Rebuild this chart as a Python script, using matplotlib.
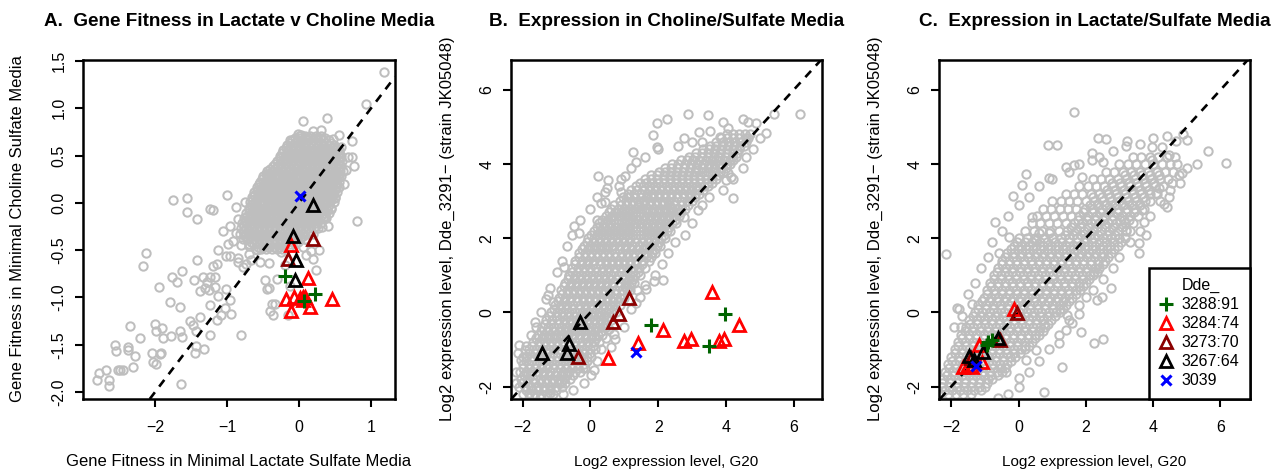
import numpy as np
import matplotlib
matplotlib.use("Agg")
import matplotlib.pyplot as plt
from matplotlib.lines import Line2D

plt.rcParams['font.family'] = ['Liberation Sans', 'DejaVu Sans']

# ---------------- text ----------------
titles = ["A.  Gene Fitness in Lactate v Choline Media",
          "B.  Expression in Choline/Sulfate Media",
          "C.  Expression in Lactate/Sulfate Media"]
xlabels = ["Gene Fitness in Minimal Lactate Sulfate Media",
           "Log2 expression level, G20",
           "Log2 expression level, G20"]
ylabels = ["Gene Fitness in Minimal Choline Sulfate Media",
           "Log2 expression level, Dde_3291\u2212 (strain JK05048)",
           "Log2 expression level, Dde_3291\u2212 (strain JK05048)"]
legend_title = "Dde_"
group_labels = ["3288:91", "3284:74", "3273:70", "3267:64", "3039"]

a_xticks = [-2, -1, 0, 1]
a_yticks = [-2.0, -1.5, -1.0, -0.5, 0.0, 0.5, 1.0, 1.5]
bc_ticks = [-2, 0, 2, 4, 6]

# ---------------- highlighted genes ----------------
a_green = [(-0.19, -0.77), (0.22, -0.96), (0.07, -1.04)]
a_red = [(-0.11, -0.45), (0.12, -0.79), (-0.18, -1.02), (-0.07, -1.00), (0.02, -1.01),
         (0.05, -1.00), (0.09, -0.99), (0.06, -1.03), (0.15, -1.10), (-0.11, -1.14), (0.46, -1.02)]
a_darkred = [(0.19, -0.38), (-0.15, -0.59)]
a_black = [(0.19, -0.02), (-0.08, -0.35), (-0.04, -0.60), (-0.05, -0.81)]
a_blue = [(0.01, 0.07)]

b_green = [(1.79, -0.34), (3.97, -0.05), (3.49, -0.90)]
b_red = [(3.60, 0.54), (4.38, -0.34), (2.15, -0.47), (2.76, -0.77), (2.98, -0.73),
         (3.79, -0.77), (3.94, -0.73), (1.40, -0.83), (0.51, -1.22)]
b_darkred = [(1.15, 0.38), (0.83, -0.05), (0.66, -0.27), (-0.38, -1.21)]
b_black = [(-0.31, -0.25), (-0.62, -0.85), (-0.69, -1.09), (-1.44, -1.10)]
b_blue = [(1.35, -1.06)]

c_green = [(-0.90, -0.79), (-0.80, -0.74), (-0.95, -0.88)]
c_red = [(-0.13, 0.10), (-1.17, -0.88), (-1.64, -1.46), (-1.39, -1.48), (-1.09, -1.33), (-1.50, -1.42)]
c_darkred = [(-0.04, -0.02), (-0.55, -0.74), (-1.40, -1.22)]
c_black = [(-0.60, -0.70), (-1.06, -1.06), (-1.46, -1.18), (-1.32, -1.28)]
c_blue = [(-1.27, -1.44)]

# ---------------- background genes (grey) ----------------
# Panel A dense core, row by row (y value, x values)
a_core_y = [0.71, 0.685, 0.66, 0.635, 0.61, 0.58, 0.555, 0.525, 0.50, 0.47, 0.445, 0.415, 0.39, 0.36,
            0.335, 0.305, 0.28, 0.25, 0.225, 0.195, 0.17, 0.14, 0.115, 0.085, 0.06, 0.03, 0.005,
            -0.025, -0.05, -0.08, -0.105, -0.135, -0.16, -0.19, -0.215, -0.245, -0.27, -0.30,
            -0.325, -0.355, -0.38, -0.41, -0.435, -0.465, -0.49]
a_core_x = [
    [0.00, 0.08, 0.15, 0.23, 0.30],
    [-0.06, 0.01, 0.08, 0.15, 0.22, 0.29, 0.36],
    [-0.10, -0.03, 0.04, 0.11, 0.19, 0.26, 0.33, 0.41],
    [-0.13, -0.06, 0.01, 0.08, 0.16, 0.23, 0.30, 0.37, 0.45],
    [-0.16, -0.09, -0.02, 0.05, 0.13, 0.20, 0.27, 0.34, 0.42, 0.49],
    [-0.18, -0.11, -0.04, 0.03, 0.10, 0.17, 0.25, 0.32, 0.39, 0.46, 0.52],
    [-0.22, -0.15, -0.08, 0.00, 0.07, 0.14, 0.21, 0.29, 0.36, 0.43, 0.50, 0.56],
    [-0.23, -0.16, -0.09, -0.02, 0.05, 0.13, 0.20, 0.27, 0.34, 0.41, 0.48, 0.55],
    [-0.27, -0.20, -0.12, -0.05, 0.02, 0.09, 0.17, 0.24, 0.31, 0.38, 0.45, 0.52, 0.58],
    [-0.27, -0.20, -0.13, -0.06, 0.01, 0.09, 0.16, 0.23, 0.30, 0.37, 0.45, 0.52, 0.57],
    [-0.31, -0.24, -0.17, -0.10, -0.02, 0.05, 0.12, 0.19, 0.27, 0.34, 0.41, 0.48, 0.55, 0.60],
    [-0.33, -0.26, -0.18, -0.11, -0.04, 0.03, 0.11, 0.18, 0.25, 0.32, 0.40, 0.47, 0.54],
    [-0.36, -0.29, -0.22, -0.14, -0.07, 0.00, 0.08, 0.15, 0.22, 0.29, 0.36, 0.44, 0.51, 0.58],
    [-0.40, -0.33, -0.26, -0.18, -0.11, -0.04, 0.03, 0.11, 0.18, 0.25, 0.32, 0.40, 0.47, 0.54],
    [-0.44, -0.37, -0.30, -0.23, -0.15, -0.08, -0.01, 0.06, 0.14, 0.21, 0.28, 0.35, 0.42, 0.50, 0.57, 0.61],
    [-0.46, -0.39, -0.32, -0.24, -0.17, -0.10, -0.03, 0.05, 0.12, 0.19, 0.26, 0.34, 0.41, 0.48, 0.55],
    [-0.50, -0.43, -0.35, -0.28, -0.21, -0.14, -0.06, 0.01, 0.08, 0.15, 0.23, 0.30, 0.37, 0.44, 0.52, 0.59],
    [-0.51, -0.44, -0.37, -0.29, -0.22, -0.15, -0.08, 0.00, 0.07, 0.14, 0.21, 0.29, 0.36, 0.43, 0.51],
    [-0.54, -0.47, -0.40, -0.32, -0.25, -0.18, -0.11, -0.03, 0.04, 0.11, 0.18, 0.26, 0.33, 0.40, 0.47, 0.55],
    [-0.55, -0.48, -0.41, -0.33, -0.26, -0.19, -0.12, -0.04, 0.03, 0.10, 0.17, 0.25, 0.32, 0.39, 0.47, 0.53],
    [-0.58, -0.51, -0.43, -0.36, -0.29, -0.22, -0.14, -0.07, 0.00, 0.07, 0.15, 0.22, 0.29, 0.36, 0.44, 0.51, 0.56],
    [-0.59, -0.52, -0.45, -0.37, -0.30, -0.23, -0.16, -0.08, -0.01, 0.06, 0.13, 0.21, 0.28, 0.35, 0.43, 0.50],
    [-0.62, -0.55, -0.47, -0.40, -0.33, -0.26, -0.18, -0.11, -0.04, 0.03, 0.11, 0.18, 0.25, 0.32, 0.40, 0.47, 0.53],
    [-0.62, -0.55, -0.48, -0.40, -0.33, -0.26, -0.19, -0.11, -0.04, 0.03, 0.10, 0.18, 0.25, 0.32, 0.40, 0.47],
    [-0.65, -0.58, -0.51, -0.43, -0.36, -0.29, -0.22, -0.14, -0.07, 0.00, 0.07, 0.15, 0.22, 0.29, 0.36, 0.44, 0.50],
    [-0.65, -0.58, -0.51, -0.43, -0.36, -0.29, -0.22, -0.14, -0.07, 0.00, 0.07, 0.15, 0.22, 0.29, 0.37, 0.44],
    [-0.68, -0.61, -0.54, -0.47, -0.39, -0.32, -0.25, -0.18, -0.10, -0.03, 0.04, 0.11, 0.19, 0.26, 0.33, 0.40, 0.48],
    [-0.67, -0.60, -0.53, -0.45, -0.38, -0.31, -0.24, -0.16, -0.09, -0.02, 0.05, 0.13, 0.20, 0.27, 0.35, 0.42],
    [-0.70, -0.63, -0.56, -0.49, -0.41, -0.34, -0.27, -0.20, -0.12, -0.05, 0.02, 0.09, 0.17, 0.24, 0.31, 0.38, 0.45],
    [-0.70, -0.63, -0.56, -0.48, -0.41, -0.34, -0.27, -0.19, -0.12, -0.05, 0.02, 0.10, 0.17, 0.24, 0.32, 0.39],
    [-0.73, -0.66, -0.59, -0.51, -0.44, -0.37, -0.30, -0.22, -0.15, -0.08, -0.01, 0.07, 0.14, 0.21, 0.28, 0.36, 0.42],
    [-0.72, -0.65, -0.58, -0.50, -0.43, -0.36, -0.29, -0.21, -0.14, -0.07, 0.00, 0.08, 0.15, 0.22, 0.30, 0.36],
    [-0.76, -0.69, -0.61, -0.54, -0.47, -0.40, -0.32, -0.25, -0.18, -0.11, -0.03, 0.04, 0.11, 0.18, 0.26, 0.33, 0.38],
    [-0.75, -0.68, -0.61, -0.53, -0.46, -0.39, -0.32, -0.24, -0.17, -0.10, -0.03, 0.05, 0.12, 0.19, 0.27],
    [-0.79, -0.72, -0.64, -0.57, -0.50, -0.43, -0.35, -0.28, -0.21, -0.14, -0.06, 0.01, 0.08, 0.15, 0.23, 0.30],
    [-0.77, -0.70, -0.63, -0.55, -0.48, -0.41, -0.34, -0.26, -0.19, -0.12, -0.05, 0.03, 0.10, 0.17, 0.24],
    [-0.81, -0.74, -0.66, -0.59, -0.52, -0.45, -0.37, -0.30, -0.23, -0.16, -0.08, -0.01, 0.06, 0.13, 0.21, 0.27],
    [-0.78, -0.71, -0.64, -0.56, -0.49, -0.42, -0.35, -0.27, -0.20, -0.13, -0.06, 0.02, 0.09, 0.16],
    [-0.82, -0.75, -0.68, -0.61, -0.53, -0.46, -0.39, -0.32, -0.24, -0.17, -0.10, -0.03, 0.05, 0.12, 0.20],
    [-0.75, -0.68, -0.61, -0.53, -0.46, -0.39, -0.32, -0.24, -0.17, -0.10, -0.03, 0.05],
    [-0.78, -0.71, -0.64, -0.56, -0.49, -0.42, -0.35, -0.27, -0.20, -0.13, -0.06, 0.02, 0.09],
    [-0.67, -0.60, -0.52, -0.45, -0.38, -0.31, -0.23, -0.16, -0.09, -0.02],
    [-0.70, -0.63, -0.55, -0.48, -0.41, -0.34, -0.26, -0.19, -0.12, -0.05],
    [-0.57, -0.50, -0.43, -0.35, -0.28, -0.21, -0.14],
    [-0.60, -0.53, -0.46, -0.38, -0.31, -0.24],
]
a_scatter = [
    (1.18, 1.38), (0.93, 1.04), (0.39, 0.90), (0.05, 0.86), (0.19, 0.76), (-0.02, 0.73), (0.03, 0.72),
    (0.56, 0.72), (0.74, 0.65), (0.76, 0.39), (0.73, 0.49), (0.68, 0.48), (0.81, -0.19), (-0.30, 0.38),
    (-0.45, 0.31), (-1.00, 0.08), (-1.75, 0.03), (-1.56, 0.05), (-1.55, -0.10), (-1.42, -0.17),
    (-1.23, -0.07), (-1.19, -0.08), (-0.88, -0.04), (-0.75, 0.01), (-0.96, -0.24), (-1.06, -0.30),
    (-0.85, -0.17), (-2.13, -0.53), (-2.16, -0.67), (-1.13, -0.50), (-0.98, -0.44), (-1.02, -0.56),
    (-0.96, -0.56), (-0.85, -0.58), (-1.42, -0.60), (-1.14, -0.65), (-1.19, -0.67), (-1.63, -0.72),
    (-1.76, -0.78), (-1.70, -0.84), (-1.94, -0.89), (-1.46, -0.82), (-1.33, -0.78), (-1.28, -0.84),
    (-1.24, -0.78), (-1.17, -0.78), (-1.37, -0.93), (-1.31, -0.90), (-1.25, -0.92), (-1.17, -0.89),
    (-1.01, -0.91), (-1.13, -0.98), (-1.79, -1.05), (-1.65, -1.10), (-1.24, -1.08), (-0.96, -1.03),
    (-1.03, -1.11), (-1.08, -1.19), (-1.14, -1.24), (-0.95, -1.17), (-2.35, -1.30), (-2.21, -1.43),
    (-2.00, -1.28), (-1.90, -1.32), (-1.99, -1.35), (-1.89, -1.43), (-1.78, -1.41), (-1.65, -1.35),
    (-1.63, -1.42), (-1.52, -1.25), (-1.47, -1.29), (-1.43, -1.35), (-1.38, -1.21), (-1.23, -1.40),
    (-0.81, -1.40), (-2.55, -1.50), (-2.54, -1.57), (-2.38, -1.52), (-2.37, -1.56), (-2.28, -1.62),
    (-2.30, -1.73), (-2.04, -1.59), (-1.93, -1.60), (-1.91, -1.59), (-2.03, -1.68), (-1.98, -1.70),
    (-1.43, -1.51), (-1.45, -1.59), (-1.32, -1.54), (-2.49, -1.77), (-2.44, -1.77), (-2.51, -1.77),
    (-2.68, -1.77), (-2.78, -1.80), (-2.81, -1.87), (-2.64, -1.87), (-2.64, -1.94), (-1.64, -1.91),
    (-0.40, -1.14), (-0.36, -1.18), (-0.38, -1.07), (-0.34, -1.07), (-0.47, -0.81), (-0.44, -0.91),
    (-0.41, -0.90), (-0.41, -0.64), (-0.54, -0.63), (-0.66, -0.60), (-0.78, -0.68), (-0.85, -0.63),
    (-0.74, -0.65), (-0.69, -0.54), (-0.59, -0.50), (0.23, -0.71), (0.19, -0.59), (0.28, -0.50),
    (0.17, -0.51), (0.06, -0.47), (0.40, -0.24), (0.32, -0.25), (0.36, -0.15), (0.56, 0.27),
    (0.59, 0.59), (-0.15, -1.19), (-0.88, -0.32), (-0.80, -0.45), (-0.92, -0.40), (-0.70, -0.46),
    (0.44, -0.06), (0.50, 0.05), (0.62, 0.20), (0.65, 0.35), (0.47, 0.67), (0.30, 0.77), (-0.12, 0.66),
    (-0.20, -0.66), (-0.25, -0.52), (0.10, -0.55), (-0.30, -0.80), (-0.12, -0.88),
]

# Panel B dense band rows
b_core_y = [-2.2, -2.1, -2.0, -1.9, -1.8, -1.7, -1.6, -1.5, -1.4, -1.3, -1.2, -1.1, -1.0, -0.9,
            -0.8, -0.7, -0.6, -0.5, -0.4, -0.3, -0.2, -0.1, 0.0, 0.1, 0.2, 0.3, 0.4, 0.5, 0.6, 0.7,
            0.8, 0.9, 1.0, 1.1, 1.2, 1.3, 1.4, 1.5, 1.6, 1.7, 1.8, 1.9, 2.0, 2.1, 2.2, 2.3, 2.4, 2.5,
            2.6, 2.7, 2.8, 2.9, 3.0, 3.1, 3.2, 3.3, 3.4, 3.5, 3.6, 3.7, 3.8, 3.9, 4.0, 4.1, 4.2,
            4.3, 4.4, 4.5, 4.6, 4.7, 4.8]
b_core_x = [
    [-2.00, -1.82, -1.64, -1.46, -1.28, -1.10],
    [-1.91, -1.73, -1.55, -1.37, -1.19, -1.01],
    [-2.10, -1.92, -1.74, -1.56, -1.38, -1.20, -1.02, -0.84],
    [-2.01, -1.83, -1.65, -1.47, -1.29, -1.11, -0.93, -0.75],
    [-2.04, -1.86, -1.68, -1.50, -1.32, -1.14, -0.96, -0.78, -0.60],
    [-1.95, -1.77, -1.59, -1.41, -1.23, -1.05, -0.87, -0.69, -0.51],
    [-2.08, -1.90, -1.72, -1.54, -1.36, -1.18, -1.00, -0.82, -0.64, -0.46, -0.30],
    [-1.99, -1.81, -1.63, -1.45, -1.27, -1.09, -0.91, -0.73, -0.55, -0.37, -0.22],
    [-1.98, -1.80, -1.62, -1.44, -1.26, -1.08, -0.90, -0.72, -0.54, -0.36, -0.18],
    [-1.89, -1.71, -1.53, -1.35, -1.17, -0.99, -0.81, -0.63, -0.45, -0.27, -0.09],
    [-1.90, -1.72, -1.54, -1.36, -1.18, -1.00, -0.82, -0.64, -0.46, -0.28, -0.10, 0.02],
    [-1.81, -1.63, -1.45, -1.27, -1.09, -0.91, -0.73, -0.55, -0.37, -0.19, -0.01],
    [-1.80, -1.62, -1.44, -1.26, -1.08, -0.90, -0.72, -0.54, -0.36, -0.18, 0.00, 0.14],
    [-1.71, -1.53, -1.35, -1.17, -0.99, -0.81, -0.63, -0.45, -0.27, -0.09, 0.07],
    [-1.70, -1.52, -1.34, -1.16, -0.98, -0.80, -0.62, -0.44, -0.26, -0.08, 0.10, 0.24],
    [-1.61, -1.43, -1.25, -1.07, -0.89, -0.71, -0.53, -0.35, -0.17, 0.01, 0.17],
    [-1.56, -1.38, -1.20, -1.02, -0.84, -0.66, -0.48, -0.30, -0.12, 0.06, 0.22, 0.35],
    [-1.47, -1.29, -1.11, -0.93, -0.75, -0.57, -0.39, -0.21, -0.03, 0.15, 0.30],
    [-1.42, -1.24, -1.06, -0.88, -0.70, -0.52, -0.34, -0.16, 0.02, 0.20, 0.36, 0.46],
    [-1.33, -1.15, -0.97, -0.79, -0.61, -0.43, -0.25, -0.07, 0.11, 0.29, 0.42],
    [-1.30, -1.12, -0.94, -0.76, -0.58, -0.40, -0.22, -0.04, 0.14, 0.32, 0.48, 0.60],
    [-1.21, -1.03, -0.85, -0.67, -0.49, -0.31, -0.13, 0.05, 0.23, 0.41, 0.55],
    [-1.16, -0.98, -0.80, -0.62, -0.44, -0.26, -0.08, 0.10, 0.28, 0.46, 0.62, 0.75],
    [-1.07, -0.89, -0.71, -0.53, -0.35, -0.17, 0.01, 0.19, 0.37, 0.55, 0.69],
    [-1.04, -0.86, -0.68, -0.50, -0.32, -0.14, 0.04, 0.22, 0.40, 0.58, 0.74, 0.86],
    [-0.95, -0.77, -0.59, -0.41, -0.23, -0.05, 0.13, 0.31, 0.49, 0.67, 0.81],
    [-0.94, -0.76, -0.58, -0.40, -0.22, -0.04, 0.14, 0.32, 0.50, 0.68, 0.86, 1.00],
    [-0.85, -0.67, -0.49, -0.31, -0.13, 0.05, 0.23, 0.41, 0.59, 0.77, 0.93],
    [-0.88, -0.70, -0.52, -0.34, -0.16, 0.02, 0.20, 0.38, 0.56, 0.74, 0.92, 1.08, 1.16],
    [-0.79, -0.61, -0.43, -0.25, -0.07, 0.11, 0.29, 0.47, 0.65, 0.83, 1.01, 1.13],
    [-0.76, -0.58, -0.40, -0.22, -0.04, 0.14, 0.32, 0.50, 0.68, 0.86, 1.04, 1.20, 1.30],
    [-0.67, -0.49, -0.31, -0.13, 0.05, 0.23, 0.41, 0.59, 0.77, 0.95, 1.13, 1.27],
    [-0.64, -0.46, -0.28, -0.10, 0.08, 0.26, 0.44, 0.62, 0.80, 0.98, 1.16, 1.32, 1.45],
    [-0.55, -0.37, -0.19, -0.01, 0.17, 0.35, 0.53, 0.71, 0.89, 1.07, 1.25, 1.40],
    [-0.54, -0.36, -0.18, 0.00, 0.18, 0.36, 0.54, 0.72, 0.90, 1.08, 1.26, 1.44, 1.60],
    [-0.45, -0.27, -0.09, 0.09, 0.27, 0.45, 0.63, 0.81, 0.99, 1.17, 1.35, 1.53],
    [-0.44, -0.26, -0.08, 0.10, 0.28, 0.46, 0.64, 0.82, 1.00, 1.18, 1.36, 1.54, 1.72],
    [-0.35, -0.17, 0.01, 0.19, 0.37, 0.55, 0.73, 0.91, 1.09, 1.27, 1.45, 1.63, 1.80],
    [-0.34, -0.16, 0.02, 0.20, 0.38, 0.56, 0.74, 0.92, 1.10, 1.28, 1.46, 1.64, 1.82, 1.92],
    [-0.25, -0.07, 0.11, 0.29, 0.47, 0.65, 0.83, 1.01, 1.19, 1.37, 1.55, 1.73, 1.90],
    [-0.20, -0.02, 0.16, 0.34, 0.52, 0.70, 0.88, 1.06, 1.24, 1.42, 1.60, 1.78, 1.96, 2.06],
    [-0.11, 0.07, 0.25, 0.43, 0.61, 0.79, 0.97, 1.15, 1.33, 1.51, 1.69, 1.87, 2.03],
    [-0.08, 0.10, 0.28, 0.46, 0.64, 0.82, 1.00, 1.18, 1.36, 1.54, 1.72, 1.90, 2.08, 2.20],
    [0.01, 0.19, 0.37, 0.55, 0.73, 0.91, 1.09, 1.27, 1.45, 1.63, 1.81, 1.99, 2.17],
    [0.10, 0.28, 0.46, 0.64, 0.82, 1.00, 1.18, 1.36, 1.54, 1.72, 1.90, 2.08, 2.26, 2.36],
    [0.19, 0.37, 0.55, 0.73, 0.91, 1.09, 1.27, 1.45, 1.63, 1.81, 1.99, 2.17, 2.33],
    [0.26, 0.44, 0.62, 0.80, 0.98, 1.16, 1.34, 1.52, 1.70, 1.88, 2.06, 2.24, 2.42, 2.52],
    [0.35, 0.53, 0.71, 0.89, 1.07, 1.25, 1.43, 1.61, 1.79, 1.97, 2.15, 2.33, 2.50],
    [0.46, 0.64, 0.82, 1.00, 1.18, 1.36, 1.54, 1.72, 1.90, 2.08, 2.26, 2.44, 2.62],
    [0.55, 0.73, 0.91, 1.09, 1.27, 1.45, 1.63, 1.81, 1.99, 2.17, 2.35, 2.53, 2.68],
    [0.62, 0.80, 0.98, 1.16, 1.34, 1.52, 1.70, 1.88, 2.06, 2.24, 2.42, 2.60, 2.78],
    [0.71, 0.89, 1.07, 1.25, 1.43, 1.61, 1.79, 1.97, 2.15, 2.33, 2.51, 2.69, 2.87],
    [0.86, 1.04, 1.22, 1.40, 1.58, 1.76, 1.94, 2.12, 2.30, 2.48, 2.66, 2.84, 3.00],
    [0.95, 1.13, 1.31, 1.49, 1.67, 1.85, 2.03, 2.21, 2.39, 2.57, 2.75, 2.93, 3.09],
    [1.12, 1.30, 1.48, 1.66, 1.84, 2.02, 2.20, 2.38, 2.56, 2.74, 2.92, 3.10, 3.22],
    [1.21, 1.39, 1.57, 1.75, 1.93, 2.11, 2.29, 2.47, 2.65, 2.83, 3.01, 3.19, 3.33],
    [1.36, 1.54, 1.72, 1.90, 2.08, 2.26, 2.44, 2.62, 2.80, 2.98, 3.16, 3.34, 3.46],
    [1.45, 1.63, 1.81, 1.99, 2.17, 2.35, 2.53, 2.71, 2.89, 3.07, 3.25, 3.43, 3.58],
    [1.62, 1.80, 1.98, 2.16, 2.34, 2.52, 2.70, 2.88, 3.06, 3.24, 3.42, 3.60, 3.72],
    [1.80, 1.98, 2.16, 2.34, 2.52, 2.70, 2.88, 3.06, 3.24, 3.42, 3.60, 3.78],
    [2.02, 2.20, 2.38, 2.56, 2.74, 2.92, 3.10, 3.28, 3.46, 3.64, 3.82, 3.92],
    [2.21, 2.39, 2.57, 2.75, 2.93, 3.11, 3.29, 3.47, 3.65, 3.83, 4.00],
    [2.42, 2.60, 2.78, 2.96, 3.14, 3.32, 3.50, 3.68, 3.86, 4.04, 4.12],
    [2.68, 2.86, 3.04, 3.22, 3.40, 3.58, 3.76, 3.94, 4.12, 4.22],
    [2.92, 3.10, 3.28, 3.46, 3.64, 3.82, 4.00, 4.18, 4.30],
    [3.12, 3.30, 3.48, 3.66, 3.84, 4.02, 4.20, 4.34],
    [3.32, 3.50, 3.68, 3.86, 4.04, 4.22, 4.40],
    [3.52, 3.70, 3.88, 4.06, 4.24, 4.42, 4.52],
    [3.72, 3.90, 4.08, 4.26, 4.44, 4.60],
    [3.86, 4.04, 4.22, 4.40, 4.58, 4.66],
    [4.02, 4.20, 4.38, 4.56, 4.72],
]
b_scatter = [
    (2.87, 5.35), (3.46, 5.32), (6.19, 5.35), (1.96, 5.10), (2.25, 5.21), (1.84, 4.78), (1.96, 4.45),
    (1.25, 4.32), (1.36, 4.05), (2.76, 4.71), (3.30, 4.59), (3.20, 4.86), (3.52, 4.89), (3.84, 4.74),
    (4.05, 4.96), (3.92, 5.13), (4.50, 5.21), (4.66, 5.14), (4.89, 5.10), (5.17, 4.83), (5.43, 5.35),
    (4.21, 3.08), (0.22, 3.68), (0.51, 3.57), (1.02, 3.68), (0.83, 3.41), (0.90, 3.26), (0.43, 3.26),
    (0.31, 2.94), (0.44, 2.99), (0.20, 2.49), (0.61, 2.56), (-0.47, 2.33), (-0.33, 2.13), (-0.77, 1.23),
    (-0.62, 0.98), (-1.26, 0.47), (-1.11, 0.29), (-1.65, -0.25), (-1.61, -0.38), (-2.10, -0.88),
    (-2.15, -1.10), (-1.92, -1.01), (-2.05, -1.28), (0.02, -1.69), (-0.16, -1.51), (0.61, -0.92),
    (0.74, -0.73), (0.71, -0.59), (0.98, -0.38), (2.15, 0.87), (1.87, 0.86), (1.64, 0.62), (1.45, 0.42),
    (1.38, 0.60), (-1.18, -2.18), (-1.61, -2.05), (-1.80, -2.18), (-0.87, -1.91), (1.40, 2.85),
    (1.59, 3.03), (1.79, 3.12), (2.04, 2.40), (2.18, 2.94), (2.38, 2.85), (3.12, 3.39), (3.17, 2.76),
    (2.77, 2.58), (3.02, 4.11), (3.17, 3.84), (3.56, 3.93), (3.76, 4.20), (4.15, 3.66), (4.05, 3.75),
    (4.00, 3.57), (1.20, 0.10), (1.35, 0.25), (1.60, 0.75), (1.90, 1.00), (2.10, 1.30), (2.30, 1.60),
    (2.50, 1.90), (2.80, 2.10), (3.00, 2.40), (3.30, 2.90), (3.50, 3.10), (3.90, 3.30), (4.20, 3.60),
    (4.50, 3.90), (4.60, 4.20), (4.80, 4.40), (5.00, 4.70), (-1.45, 0.00), (-1.30, 0.35), (-1.20, 0.65),
    (-1.00, 1.10), (-0.85, 1.40), (-0.70, 1.80), (-0.55, 2.10), (-0.30, 2.50), (0.00, 2.80),
    (0.20, 3.10), (0.50, 3.35), (0.90, 3.60), (1.20, 3.90), (1.60, 4.20), (2.00, 4.40), (2.60, 4.50),
    (3.00, 4.60), (-1.75, -0.60), (-1.90, -0.90), (-2.00, -1.20), (-2.20, -1.60), (-2.20, -1.90),
    (0.30, -1.00), (0.45, -0.70), (0.55, -0.45), (0.20, -1.30), (0.10, -1.55), (-0.20, -1.90),
    (-0.50, -2.10), (-0.80, -2.20), (-1.50, -2.30),
]

# Panel C dense band rows
c_core_y = [-2.2, -2.1, -2.0, -1.9, -1.8, -1.7, -1.6, -1.5, -1.4, -1.3, -1.2, -1.1, -1.0, -0.9,
            -0.8, -0.7, -0.6, -0.5, -0.4, -0.3, -0.2, -0.1, 0.0, 0.1, 0.2, 0.3, 0.4, 0.5, 0.6, 0.7,
            0.8, 0.9, 1.0, 1.1, 1.2, 1.3, 1.4, 1.5, 1.6, 1.7, 1.8, 1.9, 2.0, 2.1, 2.2, 2.3, 2.4, 2.5,
            2.6, 2.7, 2.8, 2.9, 3.0, 3.1, 3.2, 3.3, 3.4, 3.5, 3.6, 3.7, 3.8, 4.0, 4.2]
c_core_x = [
    [-2.30, -2.08, -1.86, -1.64, -1.42],
    [-2.19, -1.97, -1.75, -1.53, -1.31, -1.12],
    [-2.28, -2.06, -1.84, -1.62, -1.40, -1.18, -1.00],
    [-2.26, -2.04, -1.82, -1.60, -1.38, -1.16, -0.94],
    [-2.24, -2.02, -1.80, -1.58, -1.36, -1.14, -0.92, -0.78],
    [-2.13, -1.91, -1.69, -1.47, -1.25, -1.03, -0.81, -0.62],
    [-2.18, -1.96, -1.74, -1.52, -1.30, -1.08, -0.86, -0.64, -0.50],
    [-2.07, -1.85, -1.63, -1.41, -1.19, -0.97, -0.75, -0.53, -0.40],
    [-2.10, -1.88, -1.66, -1.44, -1.22, -1.00, -0.78, -0.56, -0.34],
    [-1.99, -1.77, -1.55, -1.33, -1.11, -0.89, -0.67, -0.45, -0.23],
    [-2.00, -1.78, -1.56, -1.34, -1.12, -0.90, -0.68, -0.46, -0.24, -0.10],
    [-1.89, -1.67, -1.45, -1.23, -1.01, -0.79, -0.57, -0.35, -0.13, 0.05],
    [-1.90, -1.68, -1.46, -1.24, -1.02, -0.80, -0.58, -0.36, -0.14, 0.08, 0.20],
    [-1.79, -1.57, -1.35, -1.13, -0.91, -0.69, -0.47, -0.25, -0.03, 0.19, 0.30],
    [-1.80, -1.58, -1.36, -1.14, -0.92, -0.70, -0.48, -0.26, -0.04, 0.18, 0.40],
    [-1.69, -1.47, -1.25, -1.03, -0.81, -0.59, -0.37, -0.15, 0.07, 0.29, 0.50],
    [-1.70, -1.48, -1.26, -1.04, -0.82, -0.60, -0.38, -0.16, 0.06, 0.28, 0.50, 0.62],
    [-1.59, -1.37, -1.15, -0.93, -0.71, -0.49, -0.27, -0.05, 0.17, 0.39, 0.61, 0.72],
    [-1.56, -1.34, -1.12, -0.90, -0.68, -0.46, -0.24, -0.02, 0.20, 0.42, 0.64, 0.80],
    [-1.45, -1.23, -1.01, -0.79, -0.57, -0.35, -0.13, 0.09, 0.31, 0.53, 0.75, 0.88],
    [-1.46, -1.24, -1.02, -0.80, -0.58, -0.36, -0.14, 0.08, 0.30, 0.52, 0.74, 0.96],
    [-1.35, -1.13, -0.91, -0.69, -0.47, -0.25, -0.03, 0.19, 0.41, 0.63, 0.85, 1.07],
    [-1.30, -1.08, -0.86, -0.64, -0.42, -0.20, 0.02, 0.24, 0.46, 0.68, 0.90, 1.12, 1.22],
    [-1.19, -0.97, -0.75, -0.53, -0.31, -0.09, 0.13, 0.35, 0.57, 0.79, 1.01, 1.23, 1.32],
    [-1.20, -0.98, -0.76, -0.54, -0.32, -0.10, 0.12, 0.34, 0.56, 0.78, 1.00, 1.22, 1.40],
    [-1.09, -0.87, -0.65, -0.43, -0.21, 0.01, 0.23, 0.45, 0.67, 0.89, 1.11, 1.33, 1.50],
    [-1.04, -0.82, -0.60, -0.38, -0.16, 0.06, 0.28, 0.50, 0.72, 0.94, 1.16, 1.38, 1.60],
    [-0.93, -0.71, -0.49, -0.27, -0.05, 0.17, 0.39, 0.61, 0.83, 1.05, 1.27, 1.49, 1.70],
    [-0.94, -0.72, -0.50, -0.28, -0.06, 0.16, 0.38, 0.60, 0.82, 1.04, 1.26, 1.48, 1.70, 1.82],
    [-0.83, -0.61, -0.39, -0.17, 0.05, 0.27, 0.49, 0.71, 0.93, 1.15, 1.37, 1.59, 1.81, 1.92],
    [-0.84, -0.62, -0.40, -0.18, 0.04, 0.26, 0.48, 0.70, 0.92, 1.14, 1.36, 1.58, 1.80, 2.00],
    [-0.73, -0.51, -0.29, -0.07, 0.15, 0.37, 0.59, 0.81, 1.03, 1.25, 1.47, 1.69, 1.91, 2.10],
    [-0.74, -0.52, -0.30, -0.08, 0.14, 0.36, 0.58, 0.80, 1.02, 1.24, 1.46, 1.68, 1.90, 2.12, 2.22],
    [-0.63, -0.41, -0.19, 0.03, 0.25, 0.47, 0.69, 0.91, 1.13, 1.35, 1.57, 1.79, 2.01, 2.23, 2.32],
    [-0.60, -0.38, -0.16, 0.06, 0.28, 0.50, 0.72, 0.94, 1.16, 1.38, 1.60, 1.82, 2.04, 2.26, 2.40],
    [-0.49, -0.27, -0.05, 0.17, 0.39, 0.61, 0.83, 1.05, 1.27, 1.49, 1.71, 1.93, 2.15, 2.37, 2.50],
    [-0.50, -0.28, -0.06, 0.16, 0.38, 0.60, 0.82, 1.04, 1.26, 1.48, 1.70, 1.92, 2.14, 2.36, 2.58],
    [-0.39, -0.17, 0.05, 0.27, 0.49, 0.71, 0.93, 1.15, 1.37, 1.59, 1.81, 2.03, 2.25, 2.47, 2.66],
    [-0.34, -0.12, 0.10, 0.32, 0.54, 0.76, 0.98, 1.20, 1.42, 1.64, 1.86, 2.08, 2.30, 2.52, 2.74],
    [-0.23, -0.01, 0.21, 0.43, 0.65, 0.87, 1.09, 1.31, 1.53, 1.75, 1.97, 2.19, 2.41, 2.63, 2.84],
    [-0.14, 0.08, 0.30, 0.52, 0.74, 0.96, 1.18, 1.40, 1.62, 1.84, 2.06, 2.28, 2.50, 2.72, 2.96],
    [-0.03, 0.19, 0.41, 0.63, 0.85, 1.07, 1.29, 1.51, 1.73, 1.95, 2.17, 2.39, 2.61, 2.83, 3.05],
    [0.00, 0.25, 0.50, 0.75, 1.00, 1.25, 1.50, 1.75, 2.00, 2.25, 2.50, 2.75, 3.00, 3.15],
    [1.37, 1.62, 1.87, 2.12, 2.37, 2.62, 2.87],
    [0.20, 0.45, 0.70, 0.95, 1.20, 1.45, 1.70, 1.95, 2.20, 2.45, 2.70, 2.95, 3.20, 3.30],
    [1.57, 1.82, 2.07, 2.32, 2.57, 2.82, 3.07],
    [0.40, 0.65, 0.90, 1.15, 1.40, 1.65, 1.90, 2.15, 2.40, 2.65, 2.90, 3.15, 3.40],
    [1.77, 2.02, 2.27, 2.52, 2.77, 3.02, 3.27],
    [0.56, 0.81, 1.06, 1.31, 1.56, 1.81, 2.06, 2.31, 2.56, 2.81, 3.06, 3.31, 3.56],
    [1.93, 2.18, 2.43, 2.68, 2.93, 3.18, 3.43],
    [0.72, 0.97, 1.22, 1.47, 1.72, 1.97, 2.22, 2.47, 2.72, 2.97, 3.22, 3.47, 3.72],
    [2.11, 2.36, 2.61, 2.86, 3.11, 3.36, 3.61],
    [1.00, 1.25, 1.50, 1.75, 2.00, 2.25, 2.50, 2.75, 3.00, 3.25, 3.50, 3.75, 3.90],
    [2.22, 2.47, 2.72, 2.97, 3.22, 3.47, 3.72],
    [1.40, 1.65, 1.90, 2.15, 2.40, 2.65, 2.90, 3.15, 3.40, 3.65, 3.90, 4.10],
    [2.62, 2.87, 3.12, 3.37, 3.62, 3.87],
    [1.80, 2.05, 2.30, 2.55, 2.80, 3.05, 3.30, 3.55, 3.80, 4.05, 4.28],
    [2.77, 3.02, 3.27, 3.52, 3.77, 4.02],
    [2.20, 2.45, 2.70, 2.95, 3.20, 3.45, 3.70, 3.95, 4.20, 4.45],
    [3.17, 3.42, 3.67, 3.92, 4.17],
    [2.60, 2.85, 3.10, 3.35, 3.60, 3.85, 4.10, 4.35, 4.60],
    [3.00, 3.25, 3.50, 3.75, 4.00, 4.25, 4.50, 4.70],
    [3.40, 3.65, 3.90, 4.15, 4.40, 4.65],
]
c_scatter = [
    (1.65, 5.40), (2.36, 4.70), (2.59, 4.67), (0.88, 4.51), (1.13, 4.51), (3.23, 4.61), (3.97, 4.45),
    (4.25, 4.45), (4.47, 4.24), (5.01, 4.65), (5.64, 4.36), (6.15, 4.04), (4.67, 4.61), (1.40, 3.93),
    (1.65, 3.98), (2.19, 4.11), (2.52, 4.06), (1.90, 3.66), (0.23, 3.72), (0.91, 3.62), (0.11, 3.44),
    (-0.16, 3.14), (-0.71, 2.43), (-2.16, 1.57), (-1.77, 0.09), (-1.37, 0.24), (-1.67, -0.11),
    (-1.82, 0.11), (-1.72, -0.38), (0.76, -2.15), (1.30, -1.47), (1.85, -0.52), (2.51, -0.72),
    (2.24, -0.82), (1.20, -0.83), (2.00, 0.42), (2.49, 0.42), (2.34, 0.33), (2.74, 0.65), (3.58, 1.61),
    (3.58, 1.88), (3.78, 2.09), (4.41, 2.85), (4.33, 2.92), (4.47, 3.12), (3.68, 2.76), (4.07, 3.23),
    (4.17, 3.35), (4.57, 3.48), (4.77, 3.71), (4.87, 3.75), (3.97, 4.11), (2.19, 4.29), (3.73, 2.45),
    (3.18, 2.22), (3.13, 2.49), (0.61, 2.13), (0.41, 2.58), (0.51, 1.95), (0.91, 2.13), (-0.58, 1.59),
    (-0.28, 2.04), (1.60, -0.29), (1.45, -0.07), (1.40, -0.47), (1.80, -0.03), (0.51, -1.01),
    (0.21, -1.28), (-0.38, -1.60), (0.01, -1.78), (-1.92, -0.38), (-1.50, 0.50), (-1.30, 0.80),
    (-1.10, 1.20), (-0.90, 1.50), (-0.80, 1.90), (-0.50, 2.20), (-0.30, 2.60), (0.00, 2.90),
    (0.30, 3.10), (0.60, 3.40), (1.00, 3.60), (1.50, 3.80), (1.80, 4.00), (2.40, 4.20), (2.80, 4.35),
    (3.20, 4.50), (3.60, 4.55), (4.00, 4.70), (4.40, 4.75), (4.90, 4.80), (1.20, -0.60), (1.50, -0.20),
    (1.80, 0.20), (2.20, 0.60), (2.50, 0.90), (2.80, 1.20), (3.00, 1.50), (3.30, 1.90), (3.60, 2.20),
    (3.90, 2.60), (4.20, 3.00), (4.50, 3.30), (4.80, 3.50), (5.00, 3.90), (5.30, 4.00), (0.90, -1.00),
    (0.60, -1.30), (0.30, -1.60), (0.00, -2.00), (-0.30, -2.20), (-0.60, -2.30),
]

# ---------------- styling ----------------
GRAY = '#BEBEBE'
GROUP_COLORS = ['#006400', '#FF0000', '#8B0000', '#000000', '#0000FF']
GROUP_MARKERS = ['+', '^', '^', '^', 'x']

W, H = 1272, 474
fig = plt.figure(figsize=(W / 100, H / 100), dpi=100)


def px_axes(left, top, right, bottom):
    return fig.add_axes([left / W, 1 - bottom / H, (right - left) / W, (bottom - top) / H])


def rows_to_xy(rows_y, rows_x):
    xs, ys = [], []
    for y, row in zip(rows_y, rows_x):
        for x in row:
            xs.append(x)
            ys.append(y)
    return xs, ys


def mk(kind, color):
    if kind == '+':
        return dict(marker='+', ms=10, mew=2.2, color=color, linestyle='none')
    if kind == 'x':
        return dict(marker='x', ms=7, mew=2.2, color=color, linestyle='none')
    return dict(marker='^', ms=8, mew=2.0, mfc='none', mec=color, linestyle='none')


panels = [
    dict(box=(83, 60, 395, 399), xlim=(-3.0, 1.333), ylim=(-2.073, 1.51),
         core=(a_core_y, a_core_x), scatter=a_scatter,
         groups=[a_green, a_red, a_darkred, a_black, a_blue],
         xticks=a_xticks, yticks=a_yticks, yfmt='%.1f', ylab_x=18,
         xlab_fs=12, ylab_fs=12),
    dict(box=(511, 60, 822, 399), xlim=(-2.344, 6.837), ylim=(-2.335, 6.807),
         core=(b_core_y, b_core_x), scatter=b_scatter,
         groups=[b_green, b_red, b_darkred, b_black, b_blue],
         xticks=bc_ticks, yticks=bc_ticks, yfmt='%d', ylab_x=447,
         xlab_fs=11, ylab_fs=12),
    dict(box=(939, 60, 1250, 399), xlim=(-2.362, 6.877), ylim=(-2.335, 6.807),
         core=(c_core_y, c_core_x), scatter=c_scatter,
         groups=[c_green, c_red, c_darkred, c_black, c_blue],
         xticks=bc_ticks, yticks=bc_ticks, yfmt='%d', ylab_x=875,
         xlab_fs=11, ylab_fs=12),
]

draw_order = [1, 2, 3, 0, 4]  # red, dark red, black, green, blue

for i, p in enumerate(panels):
    l, t, r, b = p['box']
    ax = px_axes(l, t, r, b)
    cx, cy = rows_to_xy(*p['core'])
    sx = [q[0] for q in p['scatter']]
    sy = [q[1] for q in p['scatter']]
    ax.plot(cx + sx, cy + sy, linestyle='none', marker='o', ms=6.0, mfc='none',
            mec=GRAY, mew=1.45, zorder=1)
    ax.axline((0, 0), slope=1, color='black', lw=1.9, linestyle=(0, (3.2, 2.7)), zorder=2)
    for g in draw_order:
        pts = p['groups'][g]
        ax.plot([q[0] for q in pts], [q[1] for q in pts], zorder=3,
                **mk(GROUP_MARKERS[g], GROUP_COLORS[g]))
    ax.set_xlim(*p['xlim'])
    ax.set_ylim(*p['ylim'])
    ax.set_xticks(p['xticks'])
    ax.set_yticks(p['yticks'])
    ax.set_yticklabels([p['yfmt'] % v for v in p['yticks']])
    for s in ax.spines.values():
        s.set_linewidth(1.8)
    ax.tick_params(direction='out', length=6, width=1.5, labelsize=11.5)
    ax.tick_params(axis='x', pad=9)
    ax.tick_params(axis='y', pad=6)
    for lab in ax.get_yticklabels():
        lab.set_rotation(90)
        lab.set_va('center')
    fig.text((l + r) / 2 / W, 1 - 21 / H, titles[i], ha='center', va='center',
             fontsize=13.6, fontweight='bold')
    fig.text((l + r) / 2 / W, 1 - 466 / H, xlabels[i], ha='center', va='baseline',
             fontsize=p['xlab_fs'])
    fig.text(p['ylab_x'] / W, 1 - 229 / H, ylabels[i], ha='center', va='center',
             rotation=90, fontsize=p['ylab_fs'])
    if i == 2:
        handles = [Line2D([], [], linestyle='none', marker=None)]
        labels = [legend_title]
        for g in range(5):
            handles.append(Line2D([], [], **mk(GROUP_MARKERS[g], GROUP_COLORS[g])))
            labels.append(group_labels[g])
        leg = ax.legend(handles, labels, loc='lower right', bbox_to_anchor=(1.0, 0.0),
                        borderaxespad=0.0, fontsize=11.5, frameon=True, fancybox=False,
                        handlelength=0.9, handletextpad=0.5, labelspacing=0.25,
                        borderpad=0.66, framealpha=1)
        leg.get_frame().set_edgecolor('black')
        leg.get_frame().set_linewidth(1.8)
        leg.set_zorder(5)

fig.savefig('out.png', dpi=100)
